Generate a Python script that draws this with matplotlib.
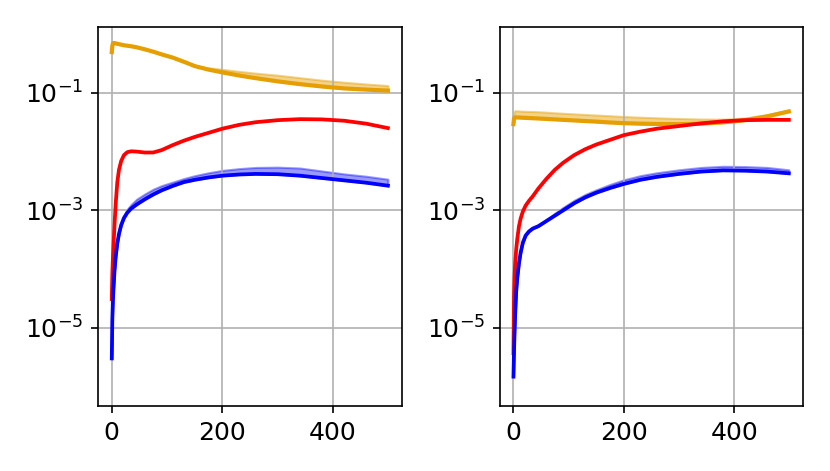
import numpy as np
import matplotlib
matplotlib.use("Agg")
import matplotlib.pyplot as plt
from matplotlib.ticker import FixedLocator, NullLocator

# step values (x axis), same for both panels
steps = [0, 1, 2, 3, 5, 7, 10, 13, 17, 22, 28, 35, 45, 60, 75, 90, 110, 130, 150,
         175, 200, 230, 260, 300, 340, 380, 420, 460, 499]

# values, stored as log10 exponents
# left panel
left_red = [-4.51, -4.08, -3.82, -3.62, -3.24, -2.90, -2.52, -2.31, -2.16, -2.06,
            -2.01, -1.995, -2.00, -2.016, -2.015, -1.975, -1.89, -1.815, -1.75,
            -1.68, -1.61, -1.545, -1.50, -1.465, -1.448, -1.452, -1.475, -1.525, -1.60]
left_blue = [-5.52, -4.85, -4.55, -4.35, -4.02, -3.80, -3.56, -3.40, -3.25, -3.13,
             -3.04, -2.97, -2.90, -2.81, -2.73, -2.66, -2.585, -2.52, -2.48,
             -2.44, -2.41, -2.39, -2.38, -2.385, -2.41, -2.45, -2.49, -2.53, -2.58]
left_blue_hi = [-5.52, -4.85, -4.55, -4.35, -4.02, -3.80, -3.56, -3.40, -3.25, -3.10,
                -2.98, -2.90, -2.81, -2.72, -2.64, -2.58, -2.52, -2.46, -2.41,
                -2.36, -2.32, -2.29, -2.27, -2.265, -2.28, -2.33, -2.38, -2.42, -2.47]
left_orange = [-0.307, -0.20, -0.16, -0.152, -0.154, -0.158, -0.165, -0.172, -0.18, -0.19,
               -0.198, -0.207, -0.225, -0.26, -0.30, -0.345, -0.40, -0.47, -0.545,
               -0.605, -0.652, -0.705, -0.750, -0.805, -0.852, -0.892, -0.925, -0.945, -0.962]
left_orange_hi = [-0.307, -0.20, -0.16, -0.152, -0.154, -0.158, -0.165, -0.172, -0.18, -0.19,
                  -0.198, -0.207, -0.225, -0.26, -0.30, -0.345, -0.40, -0.47, -0.54,
                  -0.575, -0.600, -0.635, -0.665, -0.700, -0.742, -0.785, -0.82, -0.85, -0.876]

# right panel
right_red = [-5.43, -4.45, -4.12, -3.92, -3.66, -3.48, -3.27, -3.14, -3.02, -2.92,
             -2.84, -2.76, -2.63, -2.46, -2.31, -2.19, -2.06, -1.96, -1.88,
             -1.80, -1.72, -1.66, -1.61, -1.565, -1.52, -1.485, -1.465, -1.46, -1.46]
right_blue = [-5.83, -5.40, -5.08, -4.80, -4.38, -4.15, -3.90, -3.72, -3.55, -3.43,
              -3.36, -3.31, -3.27, -3.18, -3.09, -3.00, -2.88, -2.78, -2.70,
              -2.62, -2.55, -2.48, -2.43, -2.38, -2.34, -2.32, -2.325, -2.34, -2.37]
right_blue_hi = [-5.83, -5.40, -5.08, -4.80, -4.38, -4.15, -3.90, -3.72, -3.55, -3.43,
                 -3.36, -3.31, -3.27, -3.16, -3.05, -2.95, -2.83, -2.73, -2.65,
                 -2.56, -2.48, -2.41, -2.36, -2.31, -2.27, -2.25, -2.255, -2.27, -2.31]
right_orange = [-1.533, -1.44, -1.42, -1.418, -1.418, -1.42, -1.42, -1.422, -1.424, -1.426,
                -1.429, -1.432, -1.437, -1.444, -1.452, -1.46, -1.47, -1.48, -1.49,
                -1.505, -1.516, -1.525, -1.53, -1.533, -1.525, -1.503, -1.465, -1.40, -1.318]
right_orange_hi = [-1.533, -1.33, -1.31, -1.306, -1.306, -1.307, -1.309, -1.311, -1.313, -1.315,
                   -1.317, -1.318, -1.322, -1.33, -1.34, -1.348, -1.358, -1.368, -1.378,
                   -1.39, -1.403, -1.415, -1.425, -1.437, -1.446, -1.448, -1.43, -1.37, -1.289]

orange = "#e69f00"

plt.rcParams["font.size"] = 12
fig = plt.figure(figsize=(830 / 150, 471 / 150), dpi=150)
ax1 = fig.add_axes([0.118, 0.138, 0.366, 0.805])
ax2 = fig.add_axes([0.602, 0.138, 0.365, 0.805])

panels = [
    (ax1, left_red, left_blue, left_blue_hi, left_orange, left_orange_hi),
    (ax2, right_red, right_blue, right_blue_hi, right_orange, right_orange_hi),
]

x = np.array(steps)
for ax, red, blue, blue_hi, org, org_hi in panels:
    p = lambda v: np.power(10.0, np.array(v))
    ax.fill_between(x, p(org), p(org_hi), color=orange, alpha=0.45)
    ax.plot(x, p(org), color=orange, lw=2.0)
    ax.plot(x, p(red), color="red", lw=1.8)
    ax.fill_between(x, p(blue), p(blue_hi), color="blue", alpha=0.4)
    ax.plot(x, p(blue), color="blue", lw=1.8)
    ax.set_yscale("log")
    ax.set_ylim(10 ** -6.33, 10 ** 0.123)
    ax.set_xlim(-25, 524)
    ax.yaxis.set_major_locator(FixedLocator([1e-1, 1e-3, 1e-5]))
    ax.yaxis.set_minor_locator(NullLocator())
    ax.set_xticks([0, 200, 400])
    ax.grid(True)

fig.savefig("out.png", dpi=150)
